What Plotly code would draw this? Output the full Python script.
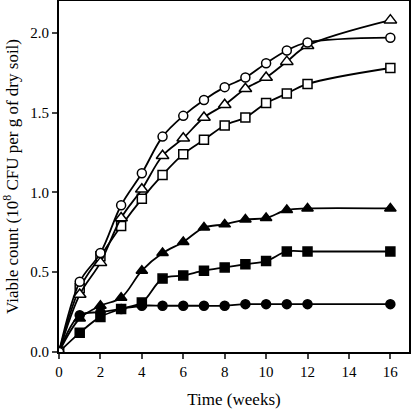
import plotly.graph_objects as go

weeks = [0, 1, 2, 3, 4, 5, 6, 7, 8, 9, 10, 11, 12, 16]

open_circle = [0.0, 0.44, 0.62, 0.92, 1.12, 1.35, 1.48, 1.58, 1.66, 1.72, 1.81, 1.89, 1.94, 1.97]
open_triangle = [0.0, 0.36, 0.56, 0.84, 1.02, 1.23, 1.34, 1.47, 1.55, 1.65, 1.72, 1.82, 1.92, 2.08]
open_square = [0.0, 0.40, 0.60, 0.79, 0.96, 1.11, 1.24, 1.33, 1.42, 1.47, 1.56, 1.62, 1.68, 1.78]
filled_triangle = [0.0, 0.21, 0.29, 0.34, 0.51, 0.62, 0.69, 0.78, 0.80, 0.83, 0.84, 0.89, 0.90, 0.90]
filled_square = [0.0, 0.12, 0.22, 0.27, 0.31, 0.46, 0.48, 0.51, 0.53, 0.55, 0.57, 0.63, 0.63, 0.63]
filled_circle = [0.0, 0.23, 0.25, 0.27, 0.29, 0.29, 0.29, 0.29, 0.29, 0.30, 0.30, 0.30, 0.30, 0.30]

x_ticks = [0, 2, 4, 6, 8, 10, 12, 14, 16]
y_ticks = [0.0, 0.5, 1.0, 1.5, 2.0]
y_tick_labels = ["0.0", "0.5", "1.0", "1.5", "2.0"]

series = [
    (filled_circle, "circle", "black", 9),
    (filled_square, "square", "black", 9),
    (filled_triangle, "triangle-up", "black", 10),
    (open_square, "square", "white", 9),
    (open_triangle, "triangle-up", "white", 11),
    (open_circle, "circle", "white", 9),
]

fig = go.Figure()
for vals, sym, fill, size in series:
    fig.add_trace(go.Scatter(
        x=weeks, y=vals, mode="lines+markers",
        line=dict(color="black", width=1.8, shape="spline", smoothing=1.0),
        marker=dict(symbol=sym, color=fill, size=size, line=dict(color="black", width=1.5)),
        showlegend=False,
    ))

font = "Liberation Serif, Times New Roman, serif"
fig.update_layout(
    width=412, height=412,
    margin=dict(l=59, r=3, t=1, b=60),
    plot_bgcolor="white", paper_bgcolor="white",
    font=dict(family=font, color="black", size=14),
)
fig.update_xaxes(
    range=[0, 16.9], tickvals=x_ticks, ticks="outside", ticklen=5, tickwidth=1.5,
    showline=True, linecolor="black", linewidth=2, mirror=True, showgrid=False, zeroline=False,
    tickfont=dict(size=15), automargin=False,
    title=dict(text="Time (weeks)", font=dict(size=17), standoff=14),
)
fig.update_yaxes(
    range=[0, 2.2], tickvals=y_ticks, ticktext=y_tick_labels, ticks="outside", ticklen=5, tickwidth=1.5,
    showline=True, linecolor="black", linewidth=2, mirror=True, showgrid=False, zeroline=False,
    tickfont=dict(size=15), automargin=False,
    title=dict(text="Viable count (10<sup>8</sup> CFU per g of dry soil)", font=dict(size=17), standoff=10),
)

fig.write_html("out.html", config={"displayModeBar": False},
               post_script="document.body.style.margin='0';")
